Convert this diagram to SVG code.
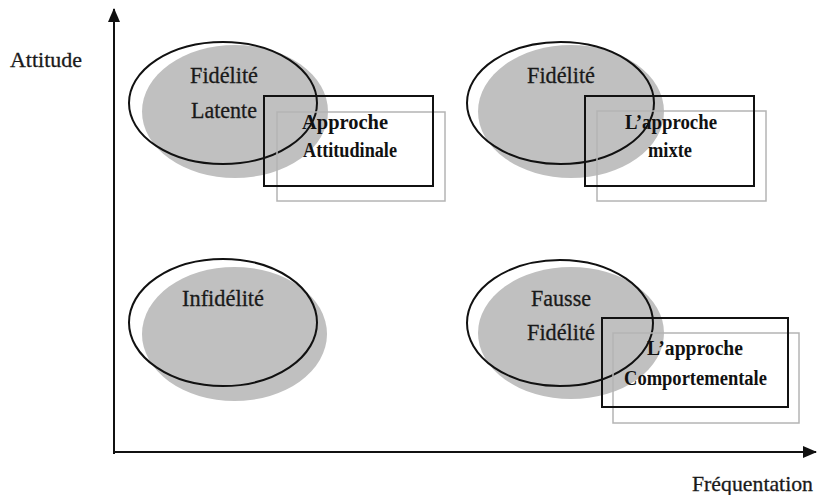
<svg xmlns="http://www.w3.org/2000/svg" width="817" height="495" viewBox="0 0 817 495">
  <style>
    .shade { fill: #c0c0c0; stroke: none; }
    .ring { fill: none; stroke: #111; stroke-width: 2; }
    .box { fill: none; stroke: #111; stroke-width: 2; }
    .ghost { fill: none; stroke: #b4b4b4; stroke-width: 1.5; }
    .axis { stroke: #111; stroke-width: 2; fill: none; }
    .lbl { font-family: "Liberation Serif", Tinos, "DejaVu Serif", serif; font-size: 23px; fill: #1a1a1a; stroke: #1a1a1a; stroke-width: 0.3; text-anchor: middle; }
    .ax { font-family: "Liberation Serif", Tinos, "DejaVu Serif", serif; font-size: 22px; fill: #1a1a1a; stroke: #1a1a1a; stroke-width: 0.3; }
    .bold { font-family: "Liberation Serif", Tinos, "DejaVu Serif", serif; font-size: 20px; font-weight: bold; fill: #111; text-anchor: middle; }
  </style>
  <defs>
    <marker id="arrow" viewBox="0 0 14 12" refX="13" refY="6" markerWidth="14" markerHeight="12" markerUnits="userSpaceOnUse" orient="auto">
      <path d="M0,0 L14,6 L0,12 Z" fill="#111"/>
    </marker>
  </defs>

  <rect width="817" height="495" fill="#fff"/>

  <!-- axes -->
  <g id="axes">
    <line class="axis" x1="114" y1="454" x2="114" y2="9" marker-end="url(#arrow)"/>
    <line class="axis" x1="113" y1="452" x2="816" y2="452" marker-end="url(#arrow)"/>
    <text class="ax" x="10" y="67" textLength="72" lengthAdjust="spacingAndGlyphs">Attitude</text>
    <text class="ax" x="692" y="491" textLength="121" lengthAdjust="spacingAndGlyphs">Fréquentation</text>
  </g>

  <!-- upper left: latent loyalty -->
  <g id="fidelite-latente">
    <ellipse class="shade" cx="235" cy="111.5" rx="93" ry="66.5"/>
    <ellipse class="ring" cx="223" cy="103" rx="94" ry="61"/>
    <text class="lbl" x="224" y="83" textLength="68" lengthAdjust="spacingAndGlyphs">Fidélité</text>
    <text class="lbl" x="224" y="118" textLength="66" lengthAdjust="spacingAndGlyphs">Latente</text>
  </g>
  <g id="approche-attitudinale">
    <rect class="ghost" x="277" y="112" width="168" height="89"/>
    <rect class="box" x="264" y="96" width="169" height="90"/>
    <text class="bold" x="345" y="129" textLength="86" lengthAdjust="spacingAndGlyphs">Approche</text>
    <text class="bold" x="350" y="157" textLength="94" lengthAdjust="spacingAndGlyphs">Attitudinale</text>
  </g>

  <!-- upper right: loyalty -->
  <g id="fidelite">
    <ellipse class="shade" cx="571" cy="111.5" rx="93" ry="66.5"/>
    <ellipse class="ring" cx="560.5" cy="103" rx="93.5" ry="61"/>
    <text class="lbl" x="561" y="83" textLength="68" lengthAdjust="spacingAndGlyphs">Fidélité</text>
  </g>
  <g id="approche-mixte">
    <rect class="ghost" x="597" y="111" width="169" height="90"/>
    <rect class="box" x="585" y="96" width="169" height="90"/>
    <text class="bold" x="671" y="129" textLength="92" lengthAdjust="spacingAndGlyphs">L’approche</text>
    <text class="bold" x="670" y="157" textLength="44" lengthAdjust="spacingAndGlyphs">mixte</text>
  </g>

  <!-- lower left: disloyalty -->
  <g id="infidelite">
    <ellipse class="shade" cx="234.5" cy="334" rx="92.5" ry="67"/>
    <ellipse class="ring" cx="223" cy="322.5" rx="94" ry="63.5"/>
    <text class="lbl" x="223" y="306" textLength="82" lengthAdjust="spacingAndGlyphs">Infidélité</text>
  </g>

  <!-- lower right: spurious loyalty -->
  <g id="fausse-fidelite">
    <ellipse class="shade" cx="571" cy="333" rx="93" ry="66"/>
    <ellipse class="ring" cx="560" cy="323" rx="93" ry="63"/>
    <text class="lbl" x="561" y="306" textLength="60" lengthAdjust="spacingAndGlyphs">Fausse</text>
    <text class="lbl" x="561" y="340" textLength="68" lengthAdjust="spacingAndGlyphs">Fidélité</text>
  </g>
  <g id="approche-comportementale">
    <rect class="ghost" x="613" y="333" width="186" height="90"/>
    <rect class="box" x="602" y="318" width="186" height="89"/>
    <text class="bold" x="695" y="355" font-size="21" textLength="96" lengthAdjust="spacingAndGlyphs">L’approche</text>
    <text class="bold" x="695.5" y="385" textLength="143" lengthAdjust="spacingAndGlyphs">Comportementale</text>
  </g>
</svg>
